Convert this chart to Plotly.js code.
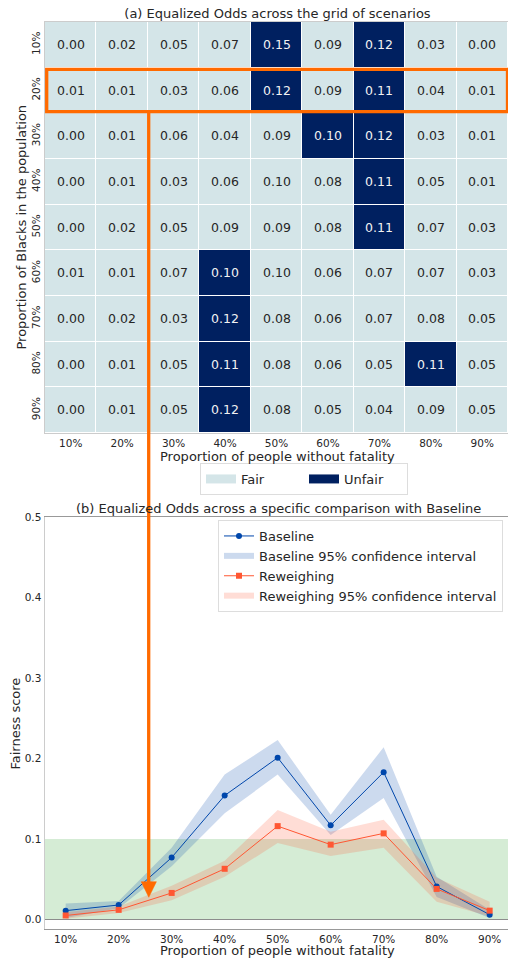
<!DOCTYPE html>
<html>
<head>
<meta charset="utf-8">
<script src="https://cdn.plot.ly/plotly-3.0.1.min.js"></script>
<style>
  html, body { margin: 0; padding: 0; background: #ffffff; }
  #chart { width: 508px; height: 959px; }
</style>
</head>
<body>
<div id="chart"></div>
<script>
// Scenario grid: proportion of people without fatality (columns) x proportion of Blacks (rows)
const fatalityLabels = ['10%', '20%', '30%', '40%', '50%', '60%', '70%', '80%', '90%'];
const blackShareLabels = ['10%', '20%', '30%', '40%', '50%', '60%', '70%', '80%', '90%'];

// Equalized Odds for every scenario, one row per proportion of Blacks
const eqOddsGrid = [
  [0.00, 0.02, 0.05, 0.07, 0.15, 0.09, 0.12, 0.03, 0.00],
  [0.01, 0.01, 0.03, 0.06, 0.12, 0.09, 0.11, 0.04, 0.01],
  [0.00, 0.01, 0.06, 0.04, 0.09, 0.10, 0.12, 0.03, 0.01],
  [0.00, 0.01, 0.03, 0.06, 0.10, 0.08, 0.11, 0.05, 0.01],
  [0.00, 0.02, 0.05, 0.09, 0.09, 0.08, 0.11, 0.07, 0.03],
  [0.01, 0.01, 0.07, 0.10, 0.10, 0.06, 0.07, 0.07, 0.03],
  [0.00, 0.02, 0.03, 0.12, 0.08, 0.06, 0.07, 0.08, 0.05],
  [0.00, 0.01, 0.05, 0.11, 0.08, 0.06, 0.05, 0.11, 0.05],
  [0.00, 0.01, 0.05, 0.12, 0.08, 0.05, 0.04, 0.09, 0.05]
];

// Verdict per scenario: 1 = unfair, 0 = fair
const unfairGrid = [
  [0, 0, 0, 0, 1, 0, 1, 0, 0],
  [0, 0, 0, 0, 1, 0, 1, 0, 0],
  [0, 0, 0, 0, 0, 1, 1, 0, 0],
  [0, 0, 0, 0, 0, 0, 1, 0, 0],
  [0, 0, 0, 0, 0, 0, 1, 0, 0],
  [0, 0, 0, 1, 0, 0, 0, 0, 0],
  [0, 0, 0, 1, 0, 0, 0, 0, 0],
  [0, 0, 0, 1, 0, 0, 0, 1, 0],
  [0, 0, 0, 1, 0, 0, 0, 0, 0]
];

// Comparison along the 20% row: Baseline vs Reweighing with 95% confidence bounds
const baselineScore = [0.011, 0.018, 0.077, 0.154, 0.201, 0.117, 0.183, 0.041, 0.006];
const baselineLow   = [0.002, 0.014, 0.066, 0.132, 0.180, 0.105, 0.151, 0.028, 0.002];
const baselineHigh  = [0.020, 0.023, 0.089, 0.180, 0.223, 0.130, 0.214, 0.053, 0.012];
const reweighScore  = [0.005, 0.012, 0.033, 0.063, 0.116, 0.093, 0.107, 0.038, 0.011];
const reweighLow    = [0.001, 0.008, 0.024, 0.053, 0.095, 0.079, 0.089, 0.022, 0.004];
const reweighHigh   = [0.009, 0.016, 0.042, 0.073, 0.136, 0.109, 0.124, 0.052, 0.022];
const fairThreshold = 0.1;

const FAIR_COLOR = '#d4e5e8';
const UNFAIR_COLOR = '#002060';
const BASE_COLOR = '#0047AB';
const REW_COLOR = '#FF5733';
const HIGHLIGHT = '#FF6A00';
const TEXT = '#262626';
const FONT = 'DejaVu Sans, sans-serif';

const W = 508, H = 959;
const px = v => v / W;          // horizontal pixel -> paper
const py = v => 1 - v / H;      // vertical pixel -> paper

// One heatmap layer per verdict, so each gets its own cell and text colour
function verdictLayer(flag, color, textColor) {
  return {
    type: 'heatmap',
    x: fatalityLabels,
    y: blackShareLabels,
    z: unfairGrid.map(r => r.map(u => (u === flag ? 1 : null))),
    text: eqOddsGrid.map((r, i) => r.map((v, j) => (unfairGrid[i][j] === flag ? v.toFixed(2) : ''))),
    texttemplate: '%{text}',
    textfont: { family: FONT, size: 12.5, color: textColor },
    colorscale: [[0, color], [1, color]],
    zmin: 0, zmax: 1,
    showscale: false,
    xgap: 1, ygap: 1,
    hoverinfo: 'skip',
    xaxis: 'x', yaxis: 'y',
    showlegend: false
  };
}

function legendSwatch(name, color) {
  return {
    type: 'scatter', mode: 'lines',
    x: [null], y: [null],
    name: name,
    line: { color: color, width: 9 },
    xaxis: 'x', yaxis: 'y',
    legend: 'legend2',
    hoverinfo: 'skip'
  };
}

function band(low, high, name, fill, rank) {
  return {
    type: 'scatter', mode: 'none',
    x: fatalityLabels.concat(fatalityLabels.slice().reverse()),
    y: high.concat(low.slice().reverse()),
    fill: 'toself', fillcolor: fill,
    name: name, legendrank: rank,
    xaxis: 'x2', yaxis: 'y2', hoverinfo: 'skip'
  };
}

const traces = [
  verdictLayer(0, FAIR_COLOR, TEXT),
  verdictLayer(1, UNFAIR_COLOR, '#f2f2f2'),
  legendSwatch('Fair', FAIR_COLOR),
  legendSwatch('Unfair', UNFAIR_COLOR),
  band(baselineLow, baselineHigh, 'Baseline 95% confidence interval', 'rgba(0,71,171,0.2)', 2),
  band(reweighLow, reweighHigh, 'Reweighing 95% confidence interval', 'rgba(255,87,51,0.2)', 4),
  {
    type: 'scatter', mode: 'lines+markers',
    x: fatalityLabels, y: baselineScore, name: 'Baseline', legendrank: 1,
    line: { color: BASE_COLOR, width: 1 },
    marker: { symbol: 'circle', size: 6, color: BASE_COLOR },
    xaxis: 'x2', yaxis: 'y2'
  },
  {
    type: 'scatter', mode: 'lines+markers',
    x: fatalityLabels, y: reweighScore, name: 'Reweighing', legendrank: 3,
    line: { color: REW_COLOR, width: 1 },
    marker: { symbol: 'square', size: 6, color: REW_COLOR },
    xaxis: 'x2', yaxis: 'y2'
  }
];

const tickFont = { family: FONT, size: 10.5, color: TEXT };
const titleFont = { family: FONT, size: 13, color: TEXT };

function label(text, x, y, angle) {
  return {
    text: text, font: titleFont, showarrow: false,
    xref: 'paper', yref: 'paper',
    x: px(x), y: py(y), xanchor: 'center', yanchor: 'middle',
    textangle: angle || 0
  };
}

const layout = {
  width: W, height: H,
  margin: { l: 0, r: 0, t: 0, b: 0 },
  paper_bgcolor: '#ffffff',
  plot_bgcolor: '#ffffff',
  font: { family: FONT, color: TEXT },
  title: {
    text: '(a) Equalized Odds across the grid of scenarios',
    font: titleFont,
    x: px(277.5), xanchor: 'center', xref: 'paper',
    y: py(13.5), yanchor: 'middle', yref: 'paper'
  },
  xaxis: {
    domain: [px(45), 1], anchor: 'y', type: 'category',
    range: [-0.5, 8.5],
    showgrid: false, zeroline: false,
    showline: true, linecolor: '#cccccc', linewidth: 1, mirror: true,
    ticks: '',
    tickfont: tickFont,
    fixedrange: true
  },
  yaxis: {
    domain: [py(433), py(22)], anchor: 'x', type: 'category',
    range: [8.5, -0.5],
    showgrid: false, zeroline: false,
    showline: true, linecolor: '#cccccc', linewidth: 1, mirror: true,
    ticks: '',
    tickangle: -90,
    tickfont: tickFont,
    fixedrange: true
  },
  xaxis2: {
    domain: [px(45), 1], anchor: 'y2', type: 'category',
    range: [-0.39, 8.346],
    showgrid: false, zeroline: false,
    showline: true, linecolor: '#999999', linewidth: 1, mirror: true,
    ticks: '',
    tickfont: tickFont,
    fixedrange: true
  },
  yaxis2: {
    domain: [py(929), py(517)], anchor: 'x2',
    range: [-0.0118, 0.5],
    tickvals: [0, 0.1, 0.2, 0.3, 0.4, 0.5],
    tickformat: '.1f',
    showgrid: false,
    zeroline: true, zerolinecolor: '#8c8c8c', zerolinewidth: 1.5,
    showline: true, linecolor: '#cccccc', linewidth: 1.5,
    ticks: '',
    tickfont: tickFont,
    fixedrange: true
  },
  legend: {
    x: px(218), y: py(520), xanchor: 'left', yanchor: 'top',
    bgcolor: 'rgba(255,255,255,0.85)', bordercolor: '#dddddd', borderwidth: 1,
    font: { family: FONT, size: 13, color: TEXT },
    tracegroupgap: 0
  },
  legend2: {
    orientation: 'h',
    x: px(200), y: py(463), xanchor: 'left', yanchor: 'top',
    entrywidth: 58,
    bgcolor: '#ffffff', bordercolor: '#dddddd', borderwidth: 1,
    font: { family: FONT, size: 13, color: TEXT }
  },
  annotations: [
    label('(b) Equalized Odds across a specific comparison with Baseline', 278, 508.3),
    label('Proportion of people without fatality', 277.5, 456),
    label('Proportion of Blacks in the population', 21, 227.5, -90),
    label('Proportion of people without fatality', 277.5, 950),
    label('Fairness score', 15, 723.5, -90)
  ],
  shapes: [
    // fairness zone below the threshold
    {
      type: 'rect', layer: 'below',
      xref: 'x2 domain', x0: 0, x1: 1,
      yref: 'y2', y0: 0, y1: fairThreshold,
      fillcolor: 'rgba(44,160,44,0.2)', line: { width: 0 }
    },
    // highlighted 20% row
    {
      type: 'rect', layer: 'above',
      xref: 'x', yref: 'y',
      x0: -0.467, x1: 8.49, y0: 0.536, y1: 1.464,
      line: { color: HIGHLIGHT, width: 3.3 }
    },
    // arrow from the highlighted row down to the comparison chart
    {
      type: 'line', layer: 'above',
      xref: 'paper', yref: 'paper',
      x0: px(148.7), x1: px(148.7), y0: py(111.7), y1: py(884),
      line: { color: HIGHLIGHT, width: 3.3 }
    },
    {
      type: 'path', layer: 'above',
      xref: 'paper', yref: 'paper',
      path: 'M ' + px(141.2) + ',' + py(881.7) + ' L ' + px(156.4) + ',' + py(881.7) +
            ' L ' + px(148.8) + ',' + py(897.3) + ' Z',
      fillcolor: HIGHLIGHT, line: { color: HIGHLIGHT, width: 0.5 }
    }
  ]
};

Plotly.newPlot('chart', traces, layout, { staticPlot: true, displayModeBar: false });
</script>
</body>
</html>
